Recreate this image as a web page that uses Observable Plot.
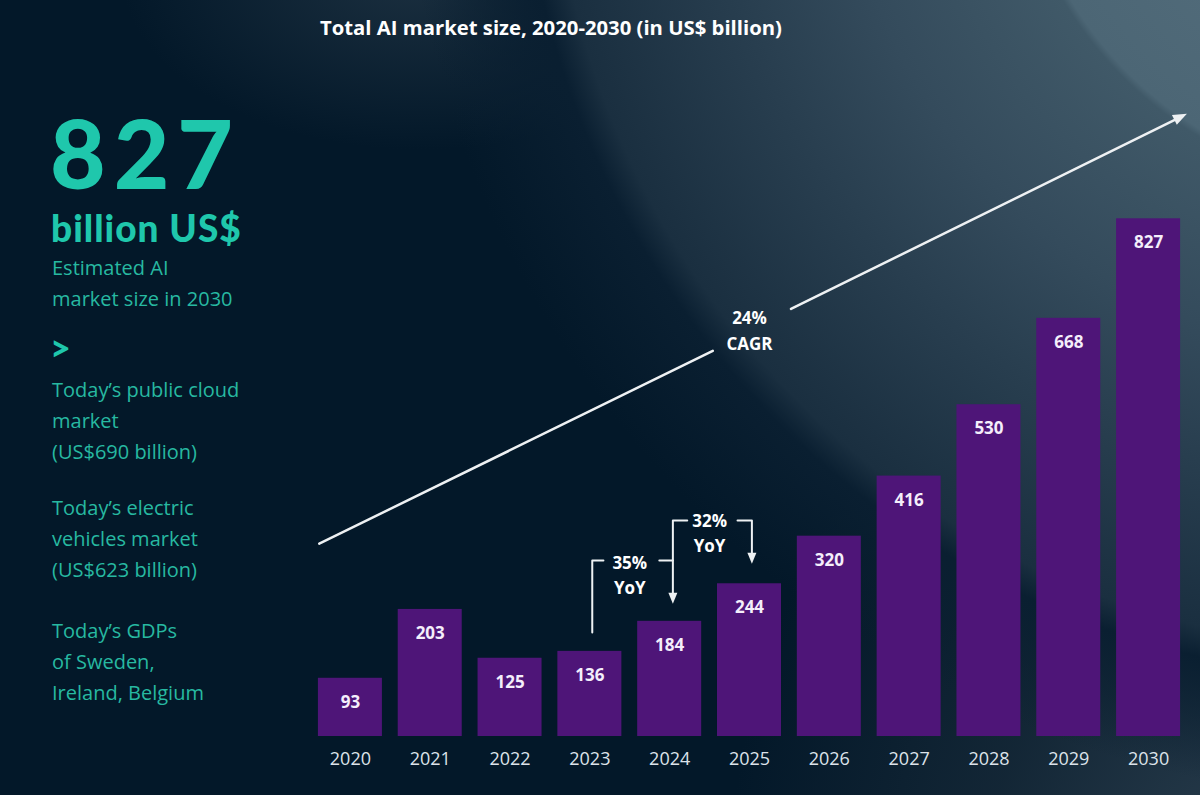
<!DOCTYPE html>
<html>
<head>
<meta charset="utf-8">
<script src="https://cdn.jsdelivr.net/npm/d3@7"></script>
<script src="https://cdn.jsdelivr.net/npm/@observablehq/plot@0.6"></script>
<style>
  html, body { margin: 0; padding: 0; }
  body { width: 1200px; height: 795px; overflow: hidden; background: #031829; }
  #wrap {
    position: relative; width: 1200px; height: 795px; overflow: hidden;
    background:
      radial-gradient(circle at 1400px -200px, #5a7482 0px, #4c6675 385px, #405968 392px, #344b5c 560px, #283e4f 690px, #1a2f40 850px, #0a1f31 880px, rgba(3,24,41,0) 1000px),
      radial-gradient(ellipse 520px 620px at 1250px 880px, rgba(48,68,84,0.85) 0%, rgba(32,50,64,0.55) 50%, rgba(3,24,41,0) 100%),
      radial-gradient(ellipse 300px 180px at 420px -30px, rgba(34,54,70,0.8) 0%, rgba(3,24,41,0) 100%),
      #031829;
  }
  #chart { position: absolute; left: 0; top: 0; }
  .title {
    position: absolute; left: 320px; top: 14px; line-height: 26px;
    font-family: "Open Sans", sans-serif; font-weight: 700; font-size: 20.3px; color: #ffffff;
    white-space: nowrap;
  }
  .big {
    position: absolute; left: 50px; top: 112px; line-height: 80px; height: 80px;
    font-family: Lato, sans-serif; font-weight: 900; font-size: 96px; color: #1fc7ac;
    letter-spacing: 8px; white-space: nowrap;
  }
  .unit {
    position: absolute; left: 51px; top: 211px; line-height: 34px; height: 34px;
    font-family: Lato, sans-serif; font-weight: 900; font-size: 37px; color: #1fc7ac;
    letter-spacing: 1px; white-space: nowrap;
  }
  .body {
    position: absolute; left: 52px; line-height: 31px;
    font-family: "Open Sans", sans-serif; font-size: 20px; color: #27b9a1;
    white-space: nowrap;
  }
  .gt {
    position: absolute; left: 50px; top: 330px; line-height: 34px;
    font-family: Lato, sans-serif; font-weight: 900; font-size: 36px; color: #1fc7ac;
  }
</style>
</head>
<body>
<div id="wrap">
  <div id="chart"></div>
  <div class="title">Total AI market size, 2020-2030 (in US$ billion)</div>
  <div class="big">827</div>
  <div class="unit">billion US$</div>
  <div class="body" style="top:252px">Estimated AI<br>market size in 2030</div>
  <div class="gt">&gt;</div>
  <div class="body" style="top:374px">Today’s public cloud<br>market<br>(US$690 billion)</div>
  <div class="body" style="top:492px">Today’s electric<br>vehicles market<br>(US$623 billion)</div>
  <div class="body" style="top:615px">Today’s GDPs<br>of Sweden,<br>Ireland, Belgium</div>
</div>
<script>
// ---- data ----
const years  = [2020, 2021, 2022, 2023, 2024, 2025, 2026, 2027, 2028, 2029, 2030];
const values = [93, 203, 125, 136, 184, 244, 320, 416, 530, 668, 827];
const data = years.map((year, i) => ({year, value: values[i]}));

// CAGR arrow (data units: year, US$ bn), split around its label
const cagrSeg1  = [{x: 2019.61, y: 308}, {x: 2024.54, y: 616}];
const cagrSeg2  = [{x: 2025.52, y: 683}, {x: 2030.36, y: 987}];
const cagrHead  = [{x: 2030.48, y: 995}];
const cagrLabel = [{x: 2025.0, y: 652, text: "24%\nCAGR"}];

// YoY brackets
const yoyPaths = [
  {id: "a", x: 2023.03, y: 166}, {id: "a", x: 2023.03, y: 281}, {id: "a", x: 2023.17, y: 281},
  {id: "b", x: 2023.87, y: 281}, {id: "b", x: 2024.04, y: 281},
  {id: "c", x: 2024.22, y: 345}, {id: "c", x: 2024.04, y: 345}, {id: "c", x: 2024.04, y: 226},
  {id: "d", x: 2024.85, y: 345}, {id: "d", x: 2025.03, y: 345}, {id: "d", x: 2025.03, y: 290}
];
const yoyHeads  = [{x: 2024.04, y: 212}, {x: 2025.03, y: 276}];
const yoyLabels = [{x: 2023.5, y: 260, text: "35%\nYoY"}, {x: 2024.5, y: 327, text: "32%\nYoY"}];

const headSym = (L, W) => ({
  draw(ctx) { ctx.moveTo(0, 0); ctx.lineTo(-L, -W / 2); ctx.lineTo(-L, W / 2); ctx.closePath(); }
});

const ink = "#eef1f3";

const chart = Plot.plot({
  width: 1200,
  height: 795,
  marginLeft: 310,
  marginRight: 12,
  marginTop: 110,
  marginBottom: 59,
  style: {background: "transparent", fontFamily: "Open Sans, sans-serif", overflow: "visible"},
  x: {type: "linear", domain: [2019.5, 2030.5]},
  y: {domain: [0, 1000], axis: null},
  marks: [
    Plot.rectY(data, {x1: d => d.year - 0.401, x2: d => d.year + 0.401, y1: 0, y2: "value", fill: "#4e1578"}),
    Plot.text(data, {x: "year", y: "value", text: d => String(d.value), dy: 24,
      fill: "#f4eefb", fontWeight: 700, fontSize: 17}),
    Plot.axisX({ticks: years, tickFormat: d => String(d), tickSize: 0, tickPadding: 16,
      fontSize: 18, fill: "#dde3ea", label: null}),
    Plot.line(cagrSeg1, {x: "x", y: "y", stroke: ink, strokeWidth: 2.5}),
    Plot.line(cagrSeg2, {x: "x", y: "y", stroke: ink, strokeWidth: 2.5}),
    Plot.dot(cagrHead, {x: "x", y: "y", symbol: headSym(14, 11), rotate: -26.3, fill: ink, stroke: null}),
    Plot.text(cagrLabel, {x: "x", y: "y", text: "text", fill: "#ffffff", fontWeight: 700, fontSize: 17, lineHeight: 1.55}),
    Plot.line(yoyPaths, {x: "x", y: "y", z: "id", stroke: ink, strokeWidth: 2}),
    Plot.dot(yoyHeads, {x: "x", y: "y", symbol: headSym(11, 9), rotate: 90, fill: ink, stroke: null}),
    Plot.text(yoyLabels, {x: "x", y: "y", text: "text", fill: "#ffffff", fontWeight: 700, fontSize: 17, lineHeight: 1.45})
  ]
});
document.getElementById("chart").appendChild(chart);
</script>
</body>
</html>
